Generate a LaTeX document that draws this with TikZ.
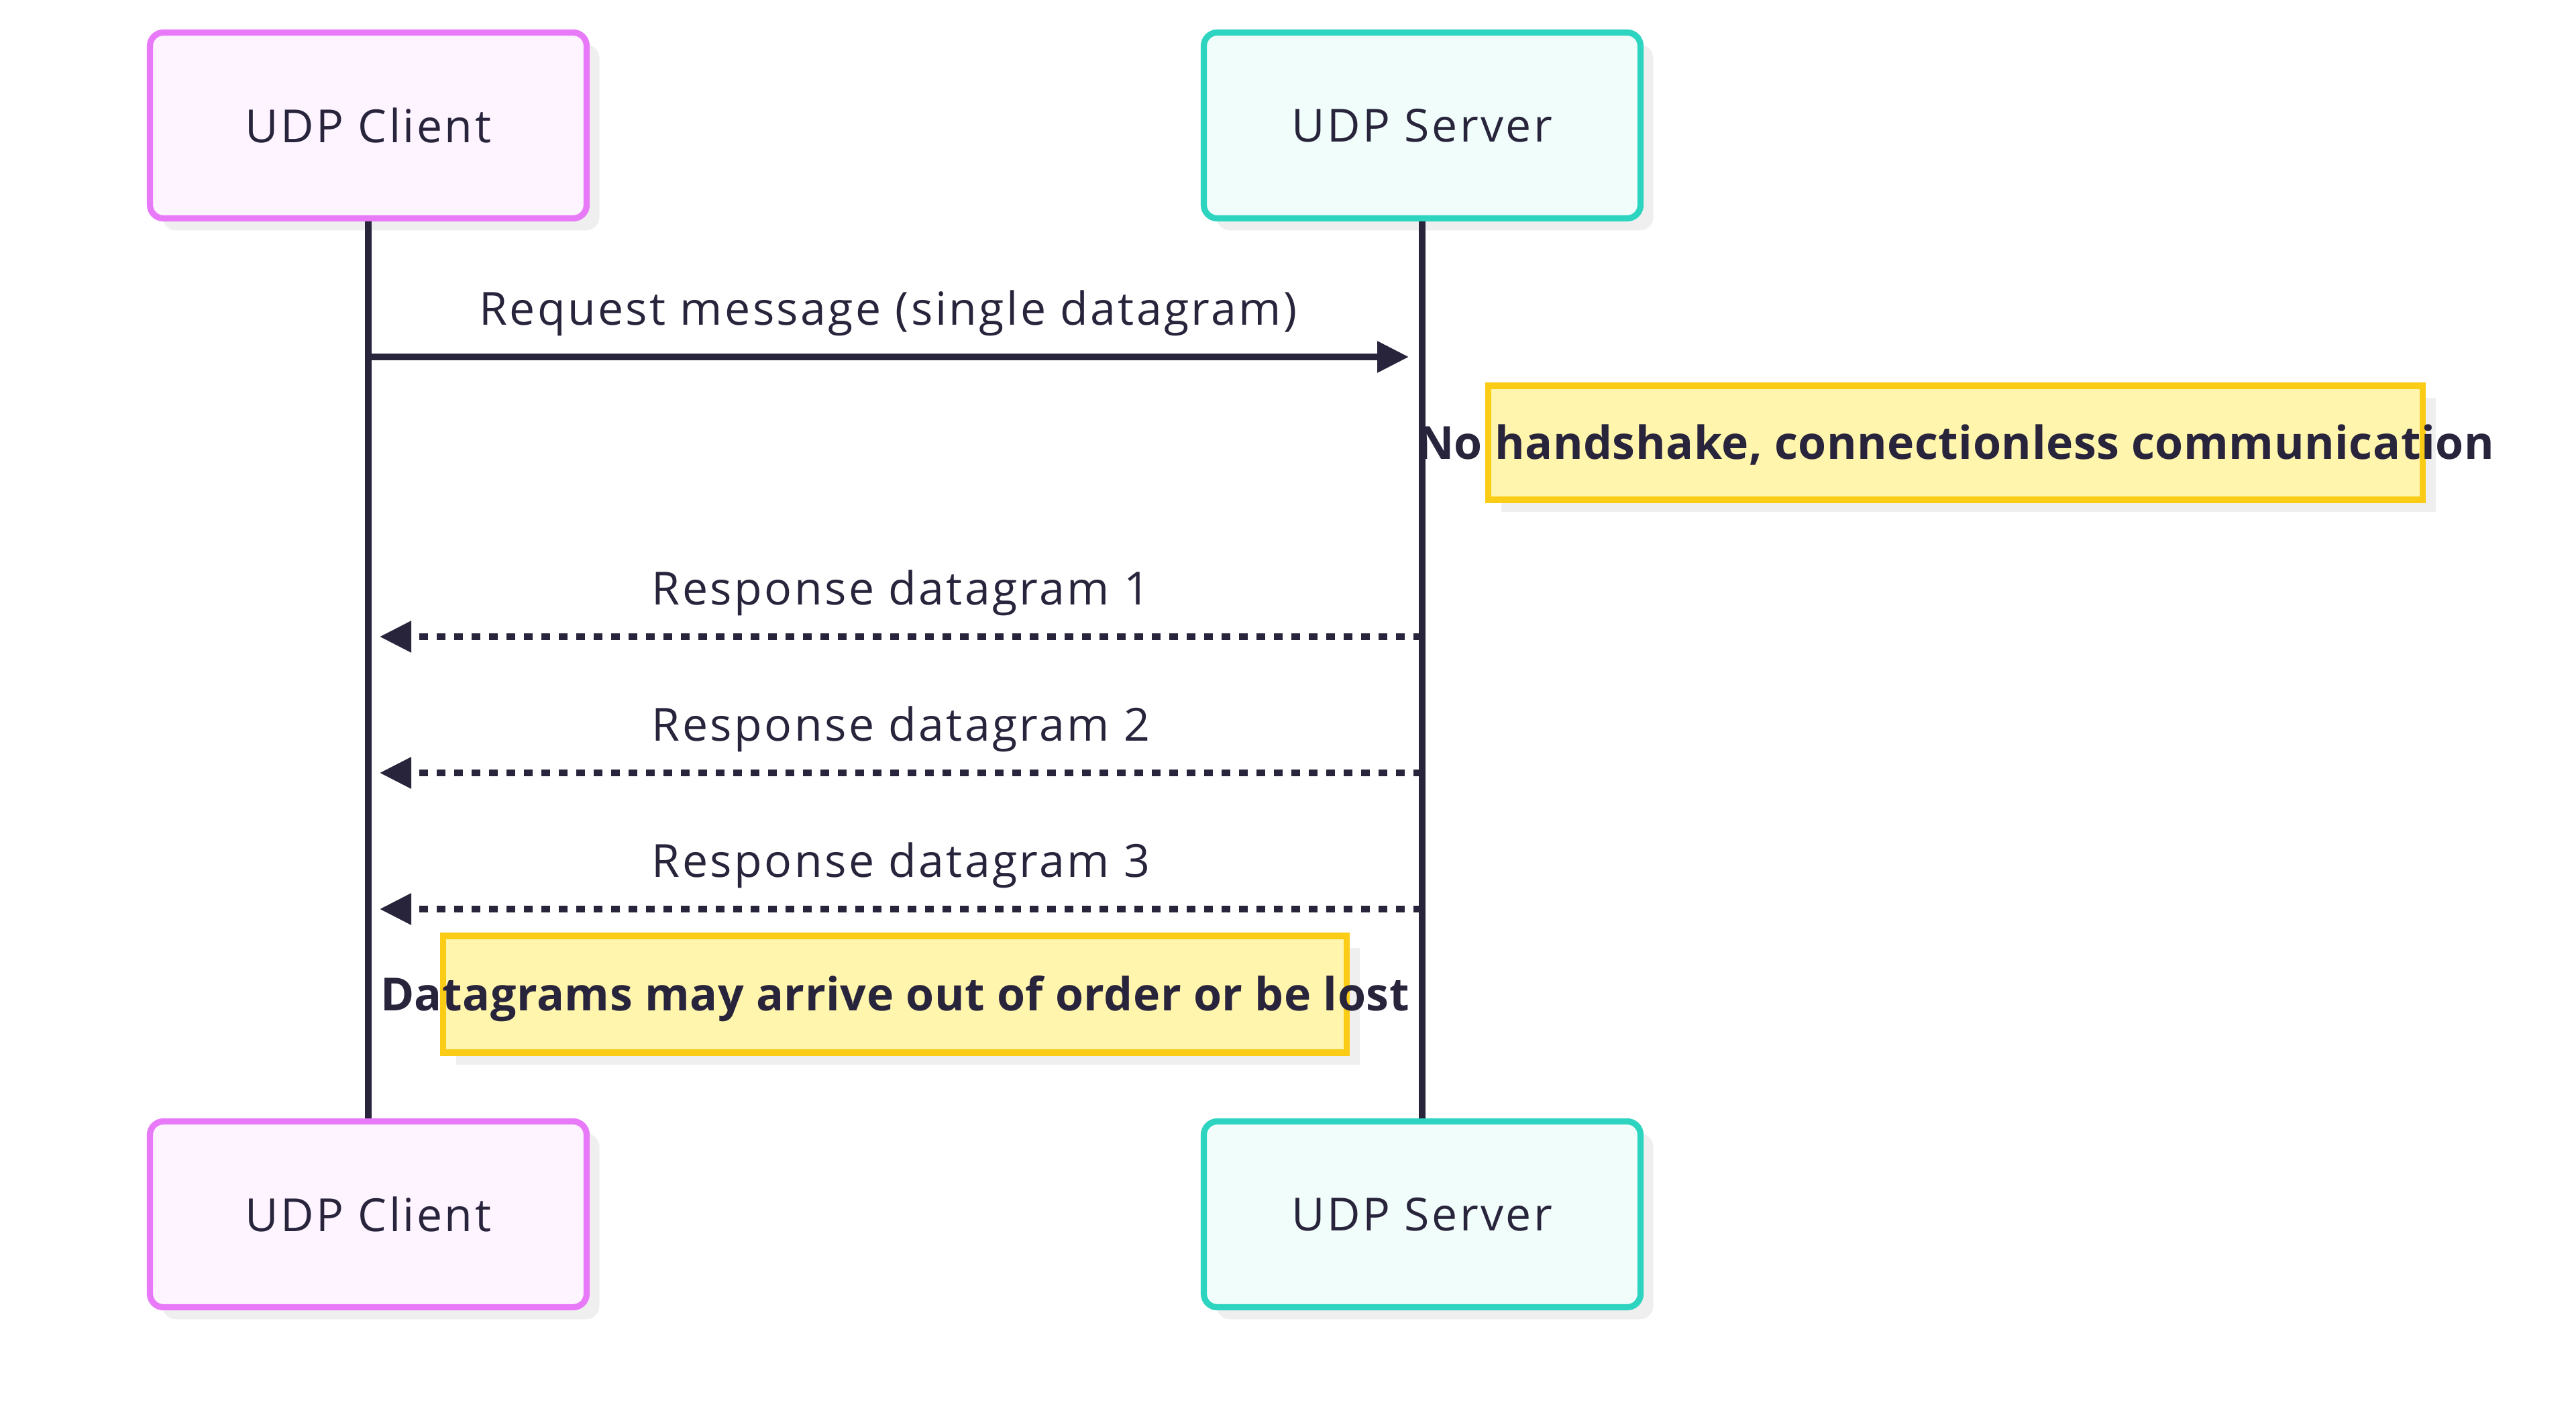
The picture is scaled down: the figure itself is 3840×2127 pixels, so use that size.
\documentclass[tikz,border=0pt]{standalone}
\usepackage{fontspec}
\setmainfont{Open Sans}
\newfontfamily\labelfont[LetterSpace=5.0]{Open Sans}
\newfontfamily\notefont[LetterSpace=0.8]{Open Sans Bold}
\usetikzlibrary{arrows.meta,shadows}
\definecolor{ink}{HTML}{28243C}
\definecolor{cliborder}{HTML}{E879F9}
\definecolor{clifill}{HTML}{FDF4FF}
\definecolor{srvborder}{HTML}{2DD4BF}
\definecolor{srvfill}{HTML}{F0FDFA}
\definecolor{noteborder}{HTML}{FACC15}
\definecolor{notefill}{HTML}{FFF5AD}
\definecolor{shadowgray}{HTML}{EFEFEF}
\tikzset{
  actorbox/.style={draw, line width=2.3pt, rounded corners=5pt, minimum width=162.75pt, minimum height=69.25pt,
     text=ink, font=\labelfont\fontsize{17}{20}\selectfont, inner sep=0pt,
     drop shadow={shadow xshift=4.75pt, shadow yshift=-4.5pt, fill=shadowgray, opacity=1}},
  clientbox/.style={actorbox, draw=cliborder, fill=clifill},
  serverbox/.style={actorbox, draw=srvborder, fill=srvfill},
  notebox/.style={draw=noteborder, fill=notefill, line width=2.3pt, inner sep=0pt,
     drop shadow={shadow xshift=4.75pt, shadow yshift=-4.5pt, fill=shadowgray, opacity=1}},
  notetext/.style={text=ink, font=\notefont\fontsize{17}{20}\selectfont, inner sep=0pt, anchor=base},
  msglabel/.style={text=ink, font=\labelfont\fontsize{17}{20}\selectfont, inner sep=0pt, anchor=base},
  lifeline/.style={draw=ink, line width=2.3pt},
  msg/.style={draw=ink, line width=2.3pt, -{Triangle[length=11.75pt,width=11.25pt]}},
  reply/.style={msg, dash pattern=on 3.25pt off 3.25pt},
}
\begin{document}
\begin{tikzpicture}[x=0.25pt,y=-0.25pt]
\useasboundingbox (0,0) rectangle (3840,2127);
% actors and lifelines
\node[clientbox] (ct) at (549,187) {UDP Client};
\node[serverbox] (st) at (2120,187) {UDP Server};
\node[clientbox] (cb) at (549,1810) {UDP Client};
\node[serverbox] (sb) at (2120,1810) {UDP Server};
\draw[lifeline] (ct.south) -- (cb.north);
\draw[lifeline] (st.south) -- (sb.north);
% message endpoints
\coordinate (c0) at (549,532);
\coordinate (s0) at (2100,532);
\coordinate (s1) at (2120,949);
\coordinate (c1) at (566,949);
\coordinate (s2) at (2120,1152);
\coordinate (c2) at (566,1152);
\coordinate (s3) at (2120,1355);
\coordinate (c3) at (566,1355);
% request
\draw[msg] (c0) -- (s0);
\node[msglabel] (l0) at (1324,485) {Request message (single datagram)};
% note 1
\node[notebox, minimum width=348.25pt, minimum height=42.5pt] (n1) at (2915,660) {};
\node[notetext] (n1t) at (2915,685) {No handshake, connectionless communication};
% responses
\draw[reply] (s1) -- (c1);
\node[msglabel] (l1) at (1343,901) {Response datagram 1};
\draw[reply] (s2) -- (c2);
\node[msglabel] (l2) at (1343,1104) {Response datagram 2};
\draw[reply] (s3) -- (c3);
\node[msglabel] (l3) at (1343,1307) {Response datagram 3};
% note 2
\node[notebox, minimum width=336.75pt, minimum height=43.5pt] (n2) at (1334,1482) {};
\node[notetext] (n2t) at (1334,1506) {Datagrams may arrive out of order or be lost};
\end{tikzpicture}
\end{document}
